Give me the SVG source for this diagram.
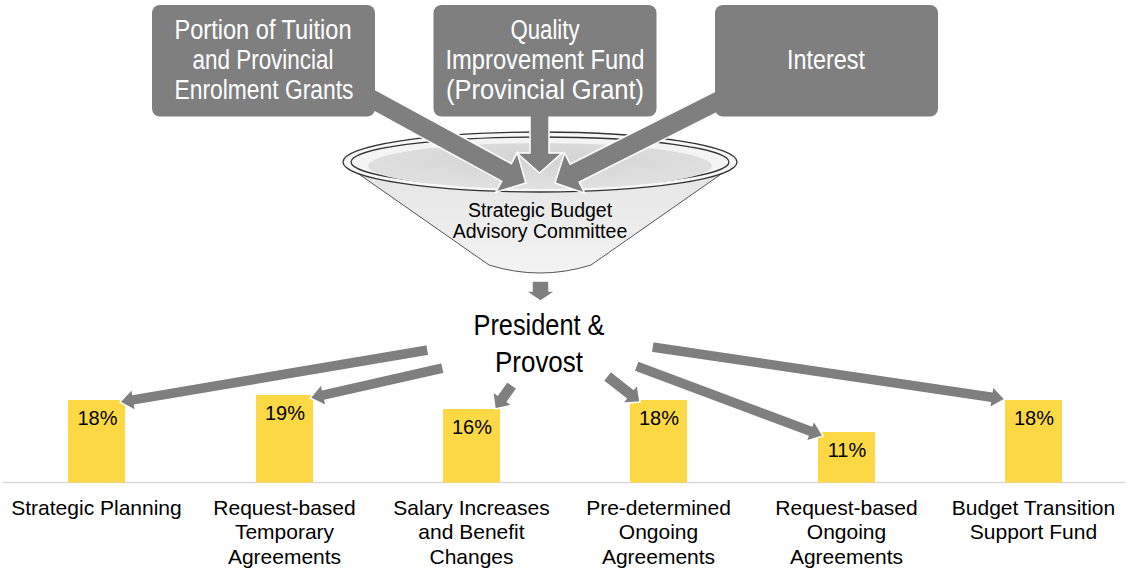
<svg xmlns="http://www.w3.org/2000/svg" width="1129" height="576" viewBox="0 0 1129 576">
<defs>
<style>
.box{fill:#7f7f7f}
.bt{font-family:"Liberation Sans Narrow","Arial Narrow","Liberation Sans",Arial,sans-serif;font-size:27px;fill:#fff;text-anchor:middle}
.arr{fill:#7f7f7f;stroke:#fff;stroke-width:1.5;stroke-linejoin:miter}
.bar{fill:#FCD844}
.pct{font-family:"Liberation Sans",Arial,sans-serif;font-size:20px;fill:#000;text-anchor:middle}
.lbl{font-family:"Liberation Sans",Arial,sans-serif;font-size:21px;fill:#000;text-anchor:middle}
.ft{font-family:"Liberation Sans",Arial,sans-serif;font-size:19.5px;fill:#000;text-anchor:middle}
.pp{font-family:"Liberation Sans Narrow","Arial Narrow","Liberation Sans",Arial,sans-serif;font-size:30px;fill:#000;text-anchor:middle}
.rim{stroke:#333;stroke-width:1.3}
</style>
<linearGradient id="gbody" x1="0" y1="0" x2="0" y2="1">
<stop offset="0" stop-color="#e4e4e4"/>
<stop offset="1" stop-color="#f3f3f3"/>
</linearGradient>
<radialGradient id="ginner" cx="0.5" cy="0.35" r="0.6">
<stop offset="0" stop-color="#d4d4d4"/>
<stop offset="1" stop-color="#e0e0e0"/>
</radialGradient>
</defs>

<g id="funnel">
<path d="M343,163 L489,265 Q540,281 591,265 L737,163 Z" fill="url(#gbody)" stroke="#555" stroke-width="1"/>
<ellipse cx="540" cy="162" rx="197" ry="30" fill="#f7f7f7" class="rim"/>
<ellipse cx="540" cy="162" rx="189" ry="25" fill="#f4f4f4" class="rim"/>
<ellipse cx="540" cy="166" rx="172" ry="23" fill="url(#ginner)"/>
<text class="ft" x="540" y="216.5">Strategic Budget</text>
<text class="ft" x="540" y="238">Advisory Committee</text>
</g>

<g id="president">
<text class="pp" x="539" y="335" textLength="131" lengthAdjust="spacingAndGlyphs">President &amp;</text>
<text class="pp" x="539" y="372" textLength="88" lengthAdjust="spacingAndGlyphs">Provost</text>
</g>

<line x1="3" y1="482.5" x2="1125" y2="482.5" stroke="#d9d9d9" stroke-width="1.5"/>

<g id="bar-strategic-planning">
<rect class="bar" x="68" y="400" width="57" height="82.5"/>
<text class="pct" x="97.5" y="425">18%</text>
<text class="lbl" x="96.5" y="514.5">Strategic Planning</text>
</g>
<g id="bar-request-temporary">
<rect class="bar" x="256" y="395" width="57" height="87.5"/>
<text class="pct" x="285" y="420">19%</text>
<text class="lbl" x="284.5" y="514.5">Request-based</text>
<text class="lbl" x="284.5" y="539">Temporary</text>
<text class="lbl" x="284.5" y="563.5">Agreements</text>
</g>
<g id="bar-salary">
<rect class="bar" x="443" y="409" width="57" height="73.5"/>
<text class="pct" x="472" y="434">16%</text>
<text class="lbl" x="471.5" y="514.5">Salary Increases</text>
<text class="lbl" x="471.5" y="539">and Benefit</text>
<text class="lbl" x="471.5" y="563.5">Changes</text>
</g>
<g id="bar-predetermined">
<rect class="bar" x="630" y="400" width="57" height="82.5"/>
<text class="pct" x="659" y="425">18%</text>
<text class="lbl" x="658.5" y="514.5">Pre-determined</text>
<text class="lbl" x="658.5" y="539">Ongoing</text>
<text class="lbl" x="658.5" y="563.5">Agreements</text>
</g>
<g id="bar-request-ongoing">
<rect class="bar" x="818" y="432" width="57" height="50.5"/>
<text class="pct" x="847" y="457">11%</text>
<text class="lbl" x="846.5" y="514.5">Request-based</text>
<text class="lbl" x="846.5" y="539">Ongoing</text>
<text class="lbl" x="846.5" y="563.5">Agreements</text>
</g>
<g id="bar-transition">
<rect class="bar" x="1005" y="400" width="57" height="82.5"/>
<text class="pct" x="1034" y="425">18%</text>
<text class="lbl" x="1033.5" y="514.5">Budget Transition</text>
<text class="lbl" x="1033.5" y="539">Support Fund</text>
</g>

<g id="connectors">
<polygon class="arr" transform="translate(539.5,108) rotate(90)" points="0,-9.5 45,-9.5 45,-22.5 65,0 45,22.5 45,9.5 0,9.5"/>
<polygon class="arr" transform="translate(370,98) rotate(28.6)" points="0,-10 155.5,-10 155.5,-22.5 177.5,0 155.5,22.5 155.5,10 0,10"/>
<polygon class="arr" transform="translate(720,100) rotate(153.3)" points="0,-10 162.7,-10 162.7,-22.5 184.7,0 162.7,22.5 162.7,10 0,10"/>
<polygon class="arr" transform="translate(540.5,281) rotate(90)" points="0,-8.5 10,-8.5 10,-15 20,0 10,15 10,8.5 0,8.5"/>
<polygon class="arr" transform="translate(428,350) rotate(170.4)" points="0,-5.5 298.4,-5.5 298.4,-11 312.4,0 298.4,11 298.4,5.5 0,5.5"/>
<polygon class="arr" transform="translate(443,368) rotate(167.3)" points="0,-5.5 122.3,-5.5 122.3,-11 136.3,0 122.3,11 122.3,5.5 0,5.5"/>
<polygon class="arr" transform="translate(512,385) rotate(125.3)" points="0,-6 16.4,-6 16.4,-12 29.4,0 16.4,12 16.4,6 0,6"/>
<polygon class="arr" transform="translate(607,376) rotate(38.2)" points="0,-6 29,-6 29,-12 42,0 29,12 29,6 0,6"/>
<polygon class="arr" transform="translate(636,366) rotate(20.5)" points="0,-5.5 185.7,-5.5 185.7,-11 199.7,0 185.7,11 185.7,5.5 0,5.5"/>
<polygon class="arr" transform="translate(652,347) rotate(8.4)" points="0,-5.5 342.8,-5.5 342.8,-11 356.8,0 342.8,11 342.8,5.5 0,5.5"/>
</g>

<g id="box-tuition">
<rect class="box" x="152" y="5" width="223" height="111.5" rx="8"/>
<text class="bt" x="263" y="38.5" textLength="177" lengthAdjust="spacingAndGlyphs">Portion of Tuition</text>
<text class="bt" x="263" y="68.5" textLength="141" lengthAdjust="spacingAndGlyphs">and Provincial</text>
<text class="bt" x="264" y="98.5" textLength="179" lengthAdjust="spacingAndGlyphs">Enrolment Grants</text>
</g>
<g id="box-quality">
<rect class="box" x="433.5" y="5" width="223" height="111.5" rx="8"/>
<text class="bt" x="545" y="38.5" textLength="69" lengthAdjust="spacingAndGlyphs">Quality</text>
<text class="bt" x="545" y="68.5" textLength="199" lengthAdjust="spacingAndGlyphs">Improvement Fund</text>
<text class="bt" x="545" y="98.5" textLength="198" lengthAdjust="spacingAndGlyphs">(Provincial Grant)</text>
</g>
<g id="box-interest">
<rect class="box" x="715" y="5" width="223" height="111.5" rx="8"/>
<text class="bt" x="826" y="68.5" textLength="78" lengthAdjust="spacingAndGlyphs">Interest</text>
</g>
</svg>
